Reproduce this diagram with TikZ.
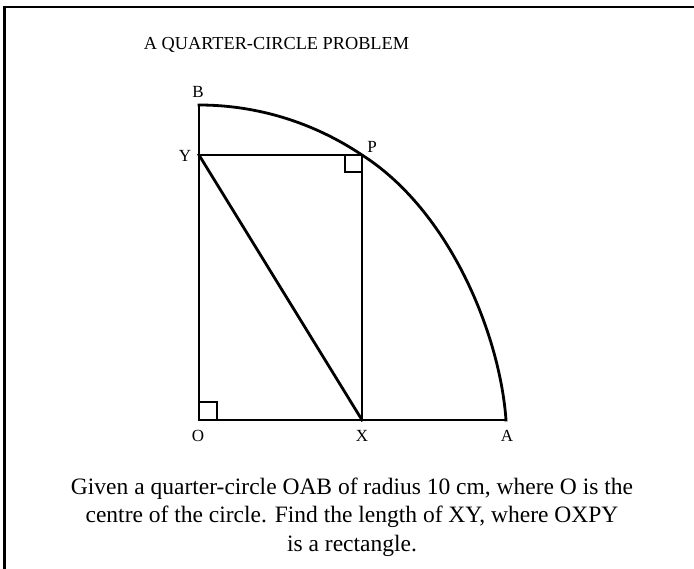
\documentclass[tikz,border=0pt]{standalone}
\usepackage{fontspec}
\setmainfont{Liberation Serif}
\begin{document}
\begin{tikzpicture}[x=1pt,y=-1pt,
  fig/.style={line width=2.8pt, line join=miter, line cap=rect},
  rmark/.style={line width=2pt},
  frameline/.style={line width=2.8pt},
  lbl/.style={font=\fontsize{17}{18}\selectfont, inner sep=0pt},
  ttl/.style={font=\fontsize{18.3}{20}\selectfont, inner sep=0pt},
  desc/.style={font=\fontsize{23.5}{28.3}\selectfont, align=center, inner sep=0pt}]
\useasboundingbox (0,0) rectangle (694,569);
% frame
\draw[frameline] (4.5,569) -- (4.5,7) -- (694,7);
% points
\coordinate (O) at (199,420);
\coordinate (A) at (506,420);
\coordinate (B) at (199,105);
\coordinate (Y) at (199,155);
\coordinate (P) at (362,155);
\coordinate (X) at (362,420);
% title
\node[ttl] (title) at (276.5,45) {A QUARTER-CIRCLE PROBLEM};
% arc
\draw[fig] (B) .. controls (257,105) and (313.4,122.4) .. (P)
               .. controls (450,211) and (500,335) .. (A);
% lines
\draw[fig] (B) -- (O) -- (A);
\draw[fig] (Y) -- (P) -- (X);
\draw[fig] (Y) -- (X);
% right-angle marks
\draw[rmark] ([xshift=-17pt]P) |- ([yshift=-17pt]P);
\draw[rmark] ([yshift=18pt]O) -| ([xshift=18pt]O);
% labels
\node[lbl] (lB) at (198,92) {B};
\node[lbl] (lY) at (185,156) {Y};
\node[lbl] (lP) at (372,147) {P};
\node[lbl] (lO) at (198,436) {O};
\node[lbl] (lX) at (362,436) {X};
\node[lbl] (lA) at (507,436) {A};
% description
\node[desc] (text) at (352,517) {Given a quarter-circle OAB of radius 10 cm, where O is the\\centre of the circle. Find the length of XY, where OXPY\\is a rectangle.};
\end{tikzpicture}
\end{document}
